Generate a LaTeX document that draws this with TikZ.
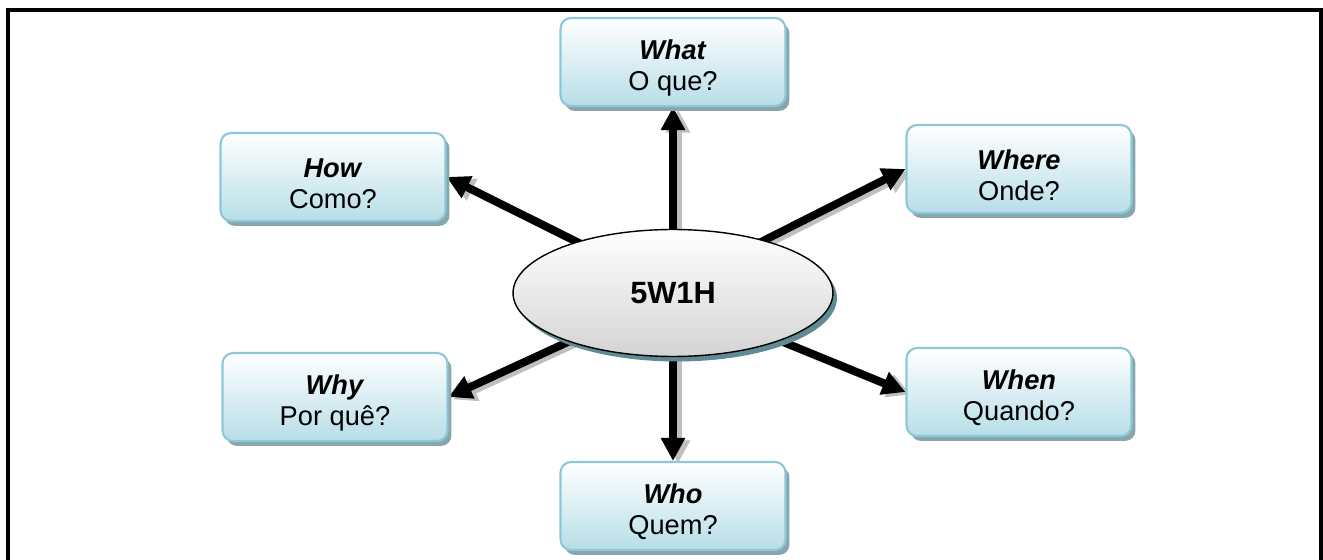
\documentclass[tikz,border=0pt]{standalone}
\usepackage{fontspec}
\setmainfont{Liberation Sans}
\usetikzlibrary{shapes.geometric,shadows,arrows.meta}
\pgfdeclarelayer{background}
\pgfsetlayers{background,main}
\definecolor{boxline}{RGB}{141,200,216}
\definecolor{boxfill}{RGB}{183,222,232}
\definecolor{boxshade}{RGB}{138,166,173}
\definecolor{ovalshade}{RGB}{95,140,148}
\newcommand{\qword}[2]{\rule{0pt}{18pt}\textbf{\textit{#1}}\\#2}

\begin{document}
\begin{tikzpicture}[x=0.02cm, y=-0.02cm,
        item/.style = {draw=boxline, line width=1.2pt, rounded corners=6pt, top color=white, bottom color=boxfill,
            minimum width=4.5cm, minimum height=1.76cm, align=center, font=\fontsize{15.5}{17.5}\selectfont,
            drop shadow={shadow xshift=0.08cm, shadow yshift=-0.1cm, fill=boxshade, opacity=1}},
        hub/.style = {ellipse, draw, line width=0.8pt, top color=white, bottom color=black!17,
            minimum width=6.4cm, minimum height=2.54cm, font=\fontsize{17.5}{20}\selectfont\bfseries,
            drop shadow={shadow xshift=0.08cm, shadow yshift=-0.1cm, fill=ovalshade, opacity=1}},
        link/.style = {line width=4.5pt, shorten <=-8pt, -{Triangle[length=0.46cm,width=0.46cm]}}]
    \useasboundingbox (0,0) rectangle (1323,560);
    \draw[line width=1.8pt] (8,570) -- (8,10) -- (1321,10) -- (1321,570);

    \node[hub] (w) at (673,293) {5W1H};

    \node[item] (what) at (673,62) {\qword{What}{O que?}};
    \node[item] (how) at (333,177) {\qword{How}{Como?}};
    \node[item] (where) at (1019,169) {\qword{Where}{Onde?}};
    \node[item] (why) at (335,397) {\qword{Why}{Por quê?}};
    \node[item] (when) at (1019,392) {\qword{When}{Quando?}};
    \node[item] (who) at (673,506) {\qword{Who}{Quem?}};

    \begin{pgfonlayer}{background}
        \foreach \f/\t in {w.north/what.south, w.152/how.east, w.30/where.west,
                w.205/why.east, w.336/when.west, w.south/who.north}{
            \draw[link, black!25, transform canvas={shift={(0.1cm,-0.05cm)}}] (\f) -- (\t);
            \draw[link] (\f) -- (\t);
        }
    \end{pgfonlayer}
\end{tikzpicture}
\end{document}
